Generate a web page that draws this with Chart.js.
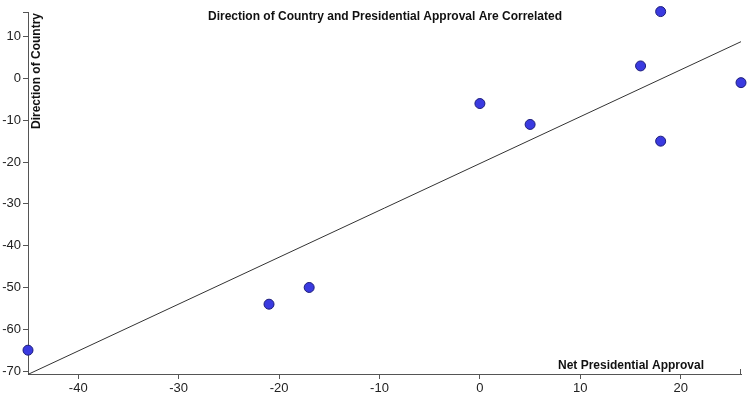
<!DOCTYPE html>
<html>
<head>
<meta charset="utf-8">
<script src="https://cdn.jsdelivr.net/npm/chart.js@4/dist/chart.umd.min.js"></script>
<style>
html,body{margin:0;padding:0;background:#fff;}
#wrap{width:750px;height:396px;position:relative;}
</style>
</head>
<body>
<div id="wrap"><canvas id="c" width="750" height="396"></canvas></div>
<script>
const chartTitle = "Direction of Country and Presidential Approval Are Correlated";
const xTitle = "Net Presidential Approval";
const yTitle = "Direction of Country";
const approval = [-45, -21, -17, 0, 5, 16, 18, 18, 26];
const direction = [-65, -54, -50, -6, -11, 3, 16, -15, -1];
const trendX = [-45, 26];
const trendY = [-70.8, 8.8];
const xTicks = [-40, -30, -20, -10, 0, 10, 20];
const yTicks = [-70, -60, -50, -40, -30, -20, -10, 0, 10];

const FONT = "'Liberation Sans', Arial, sans-serif";

const textPlugin = {
  id: 'texts',
  afterDraw(chart) {
    const ctx = chart.ctx;
    const a = chart.chartArea;
    ctx.save();
    ctx.fillStyle = '#111';
    ctx.font = 'bold 12px ' + FONT;
    ctx.textAlign = 'center';
    ctx.textBaseline = 'middle';
    ctx.fillText(chartTitle, 385, 17);
    ctx.textAlign = 'right';
    ctx.fillText(xTitle, a.right - 37, a.bottom - 8);
    ctx.translate(a.left + 9, a.top + 59);
    ctx.rotate(-Math.PI / 2);
    ctx.textAlign = 'center';
    ctx.fillText(yTitle, 0, 0);
    ctx.restore();
    ctx.save();
    ctx.strokeStyle = '#555';
    ctx.lineWidth = 1;
    ctx.beginPath();
    ctx.moveTo(a.left - 5, a.top + 0.5); ctx.lineTo(a.left, a.top + 0.5);
    ctx.moveTo(a.right - 0.5, a.bottom); ctx.lineTo(a.right - 0.5, a.bottom - 5);
    ctx.stroke();
    ctx.restore();
  }
};

new Chart(document.getElementById('c'), {
  type: 'scatter',
  data: {
    datasets: [
      {
        type: 'scatter',
        data: approval.map((x, i) => ({x: x, y: direction[i]})),
        backgroundColor: '#3a3ae0',
        borderColor: '#1c1c7a',
        borderWidth: 1,
        pointRadius: 5,
        clip: false,
        order: 1
      },
      {
        type: 'line',
        data: trendX.map((x, i) => ({x: x, y: trendY[i]})),
        borderColor: '#333',
        borderWidth: 1,
        pointRadius: 0,
        fill: false,
        clip: false,
        order: 2
      }
    ]
  },
  options: {
    responsive: false,
    animation: false,
    devicePixelRatio: 1,
    layout: {padding: {top: 12, right: 9, left: 0, bottom: 0}},
    plugins: {legend: {display: false}, tooltip: {enabled: false}, title: {display: false}},
    scales: {
      x: {
        type: 'linear',
        min: -45, max: 26,
        afterBuildTicks: s => { s.ticks = xTicks.map(v => ({value: v})); },
        afterFit: s => { s.height = 22; },
        grid: {drawOnChartArea: false, drawTicks: true, tickLength: 5, color: '#555'},
        border: {color: '#555', width: 1},
        ticks: {font: {family: FONT, size: 13}, color: '#222', padding: 2, maxRotation: 0}
      },
      y: {
        type: 'linear',
        min: -70.7, max: 15.9,
        afterBuildTicks: s => { s.ticks = yTicks.map(v => ({value: v})); },
        afterFit: s => { s.width = 28; },
        grid: {drawOnChartArea: false, drawTicks: true, tickLength: 5, color: '#555'},
        border: {color: '#555', width: 1},
        ticks: {font: {family: FONT, size: 13}, color: '#222', padding: 2}
      }
    }
  },
  plugins: [textPlugin]
});
</script>
</body>
</html>
